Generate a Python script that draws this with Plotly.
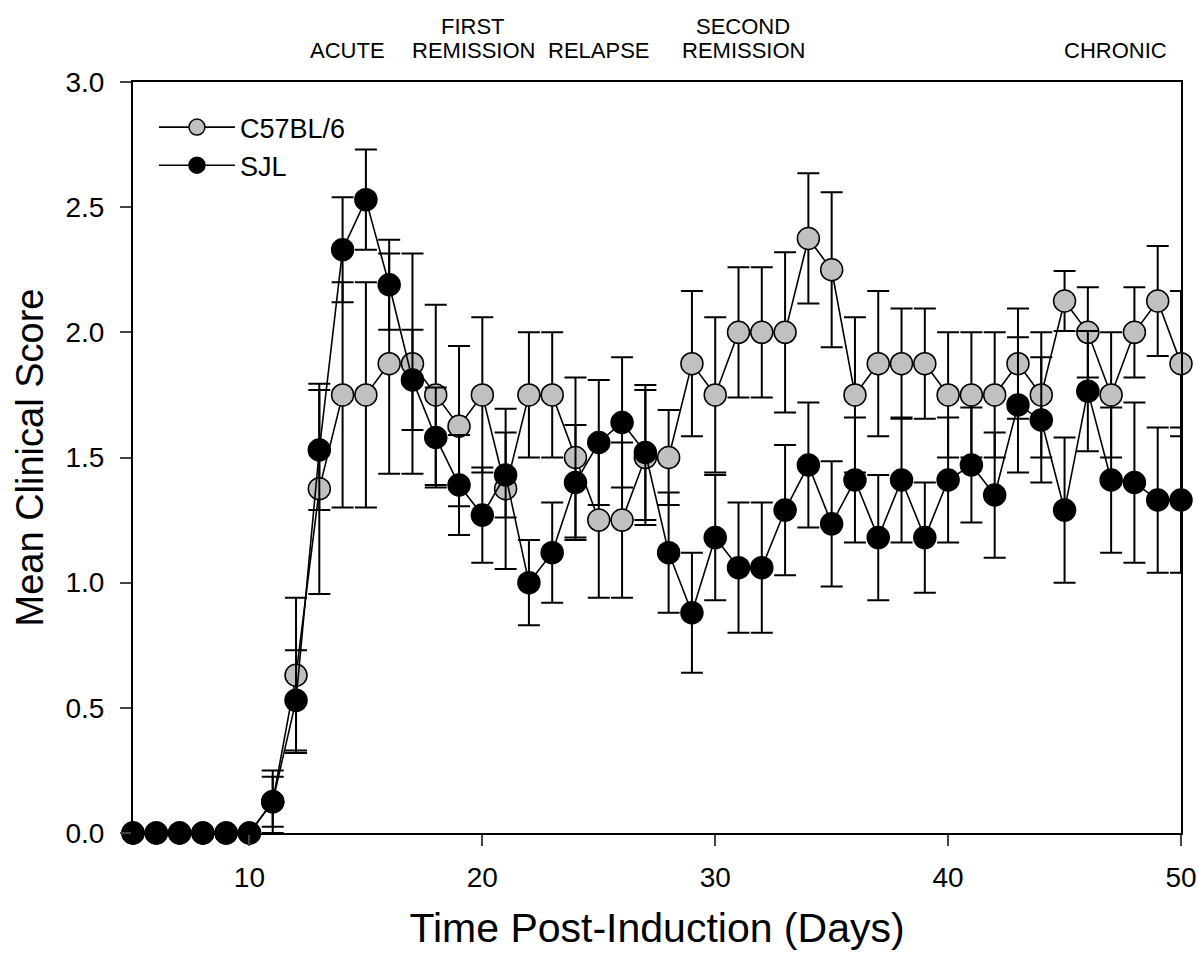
import plotly.graph_objects as go

days = list(range(5, 51))

c57_mean = [0, 0, 0, 0, 0, 0, 0.125, 0.63, 1.375, 1.75, 1.75, 1.875, 1.875, 1.75, 1.625, 1.75,
            1.375, 1.75, 1.75, 1.5, 1.25, 1.25, 1.5, 1.5, 1.875, 1.75, 2.0, 2.0, 2.0, 2.375,
            2.25, 1.75, 1.875, 1.875, 1.875, 1.75, 1.75, 1.75, 1.875, 1.75, 2.125, 2.0, 1.75,
            2.0, 2.125, 1.875]
c57_sem = [0, 0, 0, 0, 0, 0, 0.125, 0.31, 0.42, 0.45, 0.45, 0.44, 0.44, 0.36, 0.32, 0.31,
           0.32, 0.25, 0.25, 0.32, 0.31, 0.31, 0.27, 0.19, 0.29, 0.31, 0.26, 0.26, 0.32, 0.26,
           0.31, 0.31, 0.29, 0.22, 0.22, 0.25, 0.25, 0.25, 0.22, 0.25, 0.12, 0.18, 0.25,
           0.18, 0.22, 0.29]

sjl_mean = [0, 0, 0, 0, 0, 0, 0.125, 0.53, 1.53, 2.33, 2.53, 2.19, 1.81, 1.58, 1.39, 1.27,
            1.43, 1.0, 1.12, 1.40, 1.56, 1.64, 1.52, 1.12, 0.88, 1.18, 1.06, 1.06, 1.29, 1.47,
            1.235, 1.41, 1.18, 1.41, 1.18, 1.41, 1.47, 1.35, 1.71, 1.65, 1.29, 1.765, 1.41,
            1.40, 1.33, 1.33]
sjl_sem = [0, 0, 0, 0, 0, 0, 0.1, 0.2, 0.24, 0.21, 0.2, 0.18, 0.2, 0.2, 0.2, 0.19,
           0.17, 0.17, 0.2, 0.23, 0.25, 0.26, 0.27, 0.24, 0.24, 0.25, 0.26, 0.26, 0.26, 0.25,
           0.25, 0.25, 0.25, 0.25, 0.22, 0.25, 0.23, 0.25, 0.27, 0.25, 0.29, 0.24, 0.29,
           0.32, 0.29, 0.29]

series_names = ["C57BL/6", "SJL"]
x_ticks = [10, 20, 30, 40, 50]
y_ticks = [0.0, 0.5, 1.0, 1.5, 2.0, 2.5, 3.0]
phase_labels = [("ACUTE", None), ("FIRST", "REMISSION"), ("RELAPSE", None),
                ("SECOND", "REMISSION"), ("CHRONIC", None)]
phase_x = [14.2, 19.6, 25.0, 31.2, 47.2]

FONT = "Arial, Liberation Sans, sans-serif"

fig = go.Figure()
for name, mean, sem, fill in [(series_names[0], c57_mean, c57_sem, "#C0C0C0"),
                              (series_names[1], sjl_mean, sjl_sem, "#000000")]:
    fig.add_trace(go.Scatter(
        x=days, y=mean, name=name, mode="lines+markers",
        line=dict(color="black", width=1.6),
        marker=dict(symbol="circle", size=22, color=fill, line=dict(color="black", width=1.5)),
        error_y=dict(type="data", array=sem, visible=True, color="black", thickness=2, width=11),
        cliponaxis=False,
    ))

lab_font = dict(size=22, family=FONT, color="black")
annotations = []
for (l1, l2), xp in zip(phase_labels, phase_x):
    if l2 is None:
        annotations.append(dict(x=xp, y=1, xref="x", yref="paper", text=l1, showarrow=False,
                                yanchor="middle", yshift=32, font=lab_font))
    else:
        annotations.append(dict(x=xp, y=1, xref="x", yref="paper", text=l1, showarrow=False,
                                yanchor="middle", yshift=56, font=lab_font))
        annotations.append(dict(x=xp, y=1, xref="x", yref="paper", text=l2, showarrow=False,
                                yanchor="middle", yshift=32, font=lab_font))

fig.update_layout(
    width=1198, height=958,
    margin=dict(l=133, r=17, t=82, b=125),
    paper_bgcolor="white", plot_bgcolor="white",
    font=dict(family=FONT, color="black"),
    showlegend=True,
    legend=dict(x=0.02, y=0.972, xanchor="left", yanchor="top", bgcolor="rgba(0,0,0,0)",
                font=dict(size=27, family=FONT, color="black"), itemwidth=76),
    annotations=annotations,
    xaxis=dict(range=[5, 50], tickvals=x_ticks, ticks="outside", ticklen=11, tickwidth=1.5,
               showline=True, linecolor="black", linewidth=2, mirror=True, showgrid=False,
               zeroline=False, automargin=False,
               tickfont=dict(size=28, family=FONT, color="black"),
               ticklabelstandoff=7,
               title=dict(text="Time Post-Induction (Days)", font=dict(size=41, family=FONT, color="black"),
                          standoff=22)),
    yaxis=dict(range=[0, 3.0], tickvals=y_ticks, tickformat=".1f", ticks="outside", ticklen=11,
               tickwidth=1.5, showline=True, linecolor="black", linewidth=2, mirror=True,
               showgrid=False, zeroline=False, automargin=False,
               tickfont=dict(size=28, family=FONT, color="black"),
               ticklabelstandoff=10,
               title=dict(text="Mean Clinical Score", font=dict(size=38, family=FONT, color="black"),
                          standoff=10)),
)

fig.write_html("out.html")
